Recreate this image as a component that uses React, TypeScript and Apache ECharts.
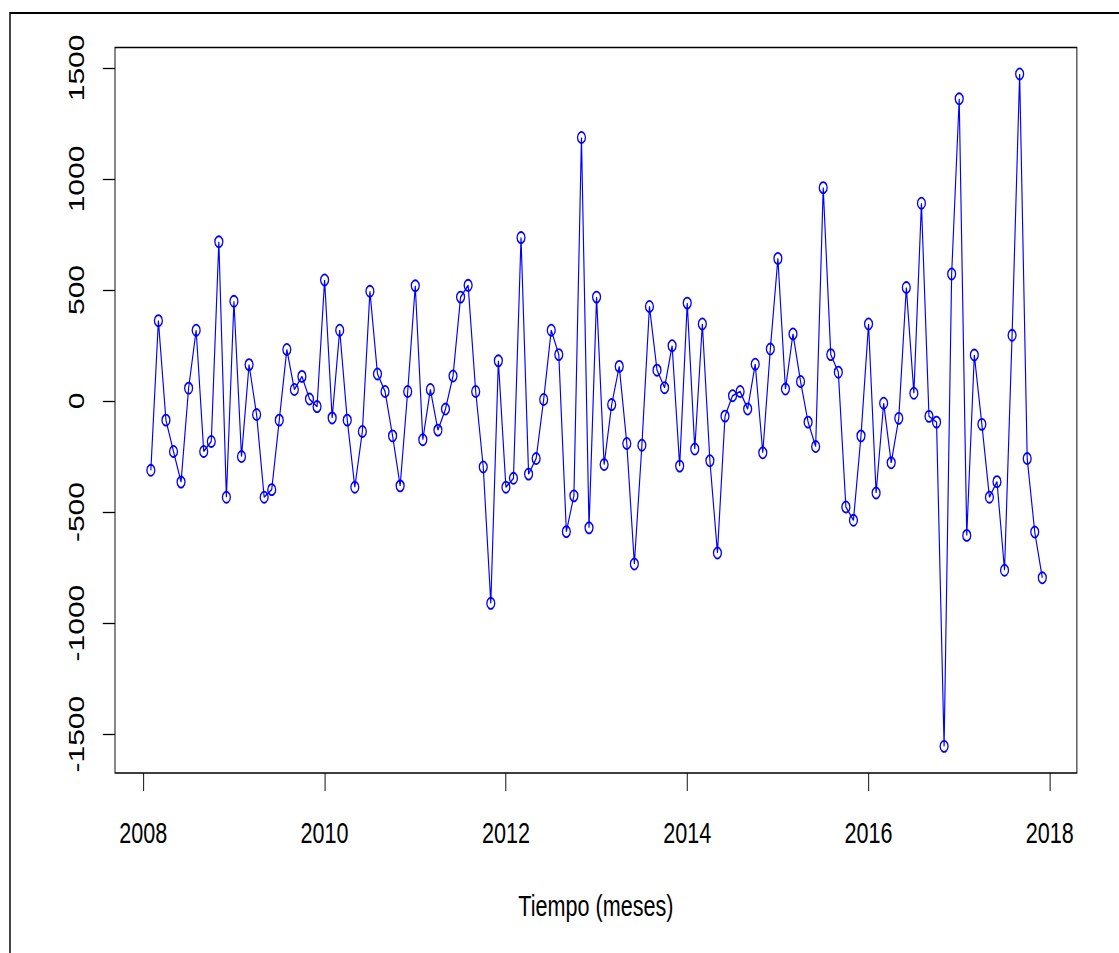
import React, { useEffect, useRef } from "react";
import * as echarts from "echarts";

// Monthly series, February 2008 – December 2017
const startYear = 2008;
const startMonth = 2;
const values: number[] = [
  -312, 362, -86, -227, -365, 58, 319, -227, -182, 717, -433,
  449, -250, 164, -61, -433, -399, -86, 232, 52, 111, 9, -25,
  545, -76, 319, -86, -388, -137, 494, 122, 43, -157, -382, 43,
  519, -174, 52, -131, -36, 113, 468, 521, 43, -297, -911, 181,
  -388, -348, 736, -329, -259, 7, 319, 209, -588, -427, 1187, -571,
  468, -286, -16, 156, -191, -734, -199, 426, 139, 60, 249, -293,
  441, -216, 347, -269, -684, -68, 24, 43, -36, 166, -233, 234,
  642, 54, 302, 88, -95, -205, 961, 209, 130, -477, -537, -157,
  347, -414, -10, -278, -78, 511, 35, 891, -69, -95, -1555, 572,
  1361, -605, 207, -105, -433, -363, -762, 296, 1473, -259, -590, -796,
];
const xTicks = [2008, 2010, 2012, 2014, 2016, 2018];
const yTicks = [-1500, -1000, -500, 0, 500, 1000, 1500];
const xAxisTitle = "Tiempo (meses)";

const PAGE_W = 1119;
const PAGE_H = 953;
const SQUEEZE = 0.72; // the reference is horizontally compressed
const INNER_W = PAGE_W / SQUEEZE;
const FONT = "'Liberation Sans', Arial, Helvetica, sans-serif";

export default function App() {
  const ref = useRef<HTMLDivElement>(null);

  useEffect(() => {
    if (!ref.current) return;
    const chart = echarts.init(ref.current, undefined, { renderer: "svg" });
    const data = values.map((v, i) => [startYear + (startMonth - 1 + i) / 12, v]);
    const option: any = {
      animation: false,
      backgroundColor: "#ffffff",
      grid: {
        left: 115 / SQUEEZE,
        right: INNER_W - 1077 / SQUEEZE,
        top: 47.5,
        bottom: PAGE_H - 773,
        show: true,
        borderColor: "#000",
        borderWidth: 1.3,
        backgroundColor: "transparent",
      },
      xAxis: {
        type: "value",
        position: "bottom",
        min: 2007.688,
        max: 2018.298,
        name: xAxisTitle,
        nameLocation: "middle",
        nameGap: 118,
        nameTextStyle: { fontSize: 30, color: "#000", fontFamily: FONT },
        axisLine: { show: false, onZero: false },
        splitLine: { show: false },
        axisTick: {
          show: true,
          length: 18,
          customValues: xTicks,
          lineStyle: { color: "#000", width: 1.3 },
        },
        axisLabel: {
          customValues: xTicks,
          margin: 45,
          fontSize: 30,
          color: "#000",
          fontFamily: FONT,
          formatter: (v: number) => String(Math.round(v)),
        },
      },
      yAxis: {
        type: "value",
        position: "left",
        min: -1675,
        max: 1592,
        axisLine: { show: false, onZero: false },
        splitLine: { show: false },
        axisTick: {
          show: true,
          length: 17,
          customValues: yTicks,
          lineStyle: { color: "#000", width: 1.3 },
        },
        axisLabel: {
          customValues: yTicks,
          rotate: 90,
          margin: 39,
          fontSize: 30,
          color: "#000",
          fontFamily: FONT,
          formatter: (v: number) => String(Math.round(v)),
        },
      },
      graphic: [
        {
          type: "rect",
          shape: { x: 10 / SQUEEZE, y: 13, width: 4000, height: 4000 },
          style: { fill: "none", stroke: "#000", lineWidth: 2 },
          silent: true,
        },
      ],
      series: [
        {
          type: "line",
          data,
          showAllSymbol: true,
          symbol: "circle",
          symbolSize: 11,
          lineStyle: { color: "#0000ff", width: 1.6 },
          itemStyle: { color: "transparent", borderColor: "#0000ff", borderWidth: 1.8 },
          emphasis: { disabled: true },
        },
      ],
    };
    chart.setOption(option);
    return () => chart.dispose();
  }, []);

  return (
    <div
      style={{
        position: "absolute",
        left: 0,
        top: 0,
        width: PAGE_W,
        height: PAGE_H,
        overflow: "hidden",
        background: "#fff",
      }}
    >
      <div
        ref={ref}
        style={{
          width: INNER_W,
          height: PAGE_H,
          transform: `scaleX(${SQUEEZE})`,
          transformOrigin: "0 0",
        }}
      />
    </div>
  );
}
